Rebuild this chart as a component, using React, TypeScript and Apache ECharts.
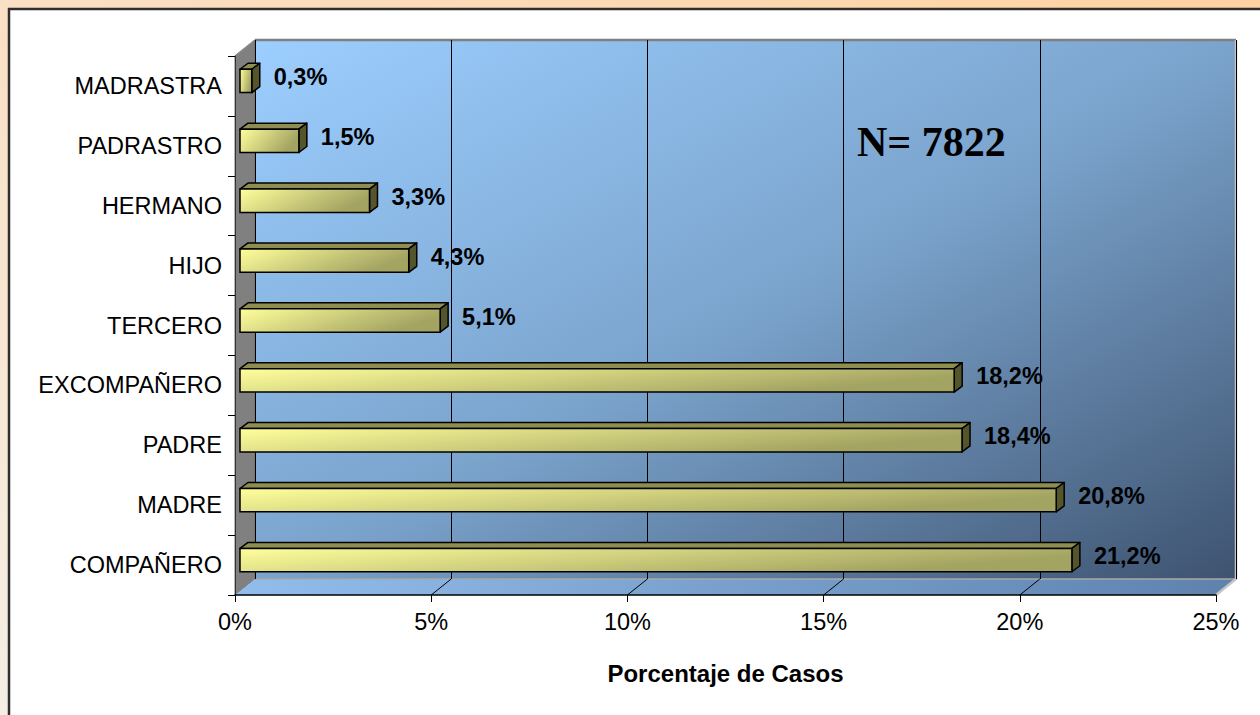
import React, { useEffect, useRef } from "react";
import * as echarts from "echarts";

const categories = ["MADRASTRA", "PADRASTRO", "HERMANO", "HIJO", "TERCERO", "EXCOMPAÑERO", "PADRE", "MADRE", "COMPAÑERO"];
const values = [0.3, 1.5, 3.3, 4.3, 5.1, 18.2, 18.4, 20.8, 21.2];
const axisMin = 0;
const axisMax = 25;
const axisStep = 5;
const floorGridValues = [5, 10, 15, 20];
const annotation = "N= 7822";
const axisTitle = "Porcentaje de Casos";

// layout constants (front plane and 3D depth)
const FL = 235, FT = 56, FR = 1216, FB = 595;
const DX = 20, DY = -16;
const W = 1260, H = 715;

const SANS = "'Liberation Sans', Arial, sans-serif";

export default function App() {
  const ref = useRef<HTMLDivElement>(null);
  useEffect(() => {
    if (!ref.current) return;
    const chart = echarts.init(ref.current, null, { renderer: "svg" });
    const LG = echarts.graphic.LinearGradient;

    const BL = FL + DX, BT = FT + DY, BR = FR + DX, BB = FB + DY;

    const option: any = {
      animation: false,
      backgroundColor: new LG(0, 1, 1, 0, [
        { offset: 0, color: "#F5EEE5" },
        { offset: 1, color: "#FFD2A2" },
      ]),
      graphic: {
        elements: [
          {
            type: "rect", z: -100, silent: true,
            shape: { x: 9, y: 9, width: W, height: H },
            style: { fill: "#FFFFFF", stroke: "#2E2E2E", lineWidth: 2.5 },
          },
          {
            type: "rect", z: -90, silent: true,
            shape: { x: BL, y: BT, width: BR - BL, height: BB - BT },
            style: {
              fill: new LG(0, 0, 1, 1, [
                { offset: 0, color: "#9CCEFF" },
                { offset: 0.5, color: "#7BA4CD" },
                { offset: 1, color: "#3E5370" },
              ]),
            },
          },
          {
            type: "polygon", z: -90, silent: true,
            shape: { points: [[FL, FT], [BL, BT], [BL, BB], [FL, FB]] },
            style: { fill: "#808080", stroke: "#6E6E6E", lineWidth: 1 },
          },
          {
            type: "polygon", z: -90, silent: true,
            shape: { points: [[FL, FB], [BL, BB], [BR, BB], [FR, FB]] },
            style: {
              fill: new LG(0, 0, 1, 0, [
                { offset: 0, color: "#92BDEB" },
                { offset: 1, color: "#5F82AD" },
              ]),
            },
          },
          {
            type: "line", z: -80, silent: true,
            shape: { x1: BL, y1: BB, x2: BR, y2: BB },
            style: { stroke: "#A9A9A9", lineWidth: 1.5 },
          },
          {
            type: "line", z: -80, silent: true,
            shape: { x1: BL, y1: BT, x2: BR, y2: BT },
            style: { stroke: "#808080", lineWidth: 2.5 },
          },
          {
            type: "line", z: -80, silent: true,
            shape: { x1: FL, y1: FT, x2: BL, y2: BT },
            style: { stroke: "#8A8A8A", lineWidth: 1.5 },
          },
          {
            type: "polyline", z: -80, silent: true,
            shape: { points: [[BR, BT], [BR, BB], [FR, FB]] },
            style: { stroke: "#C4C4C4", lineWidth: 2.5, fill: "none" },
          },
          {
            type: "text", z: 50, silent: true,
            x: 857, y: 142,
            style: {
              text: annotation,
              font: "bold 42px 'Liberation Serif', 'Times New Roman', serif",
              fill: "#000000",
              verticalAlign: "middle",
              align: "left",
            },
          },
        ],
      },
      grid: [
        { left: FL, top: FT, width: FR - FL, height: FB - FT, containLabel: false },
        { left: BL, top: BT, width: BR - BL, height: BB - BT, containLabel: false },
      ],
      xAxis: [
        {
          type: "value", gridIndex: 0, min: axisMin, max: axisMax, interval: axisStep,
          axisLine: { show: true, lineStyle: { color: "#000", width: 1.5 } },
          axisTick: { show: true, length: 7, lineStyle: { color: "#000" } },
          splitLine: { show: false },
          axisLabel: {
            formatter: "{value}%", fontSize: 23.5, color: "#000", fontFamily: SANS, margin: 15,
          },
          name: axisTitle,
          nameLocation: "middle",
          nameGap: 66,
          nameTextStyle: { fontSize: 24, fontWeight: "bold", color: "#000", fontFamily: SANS },
        },
        {
          type: "value", gridIndex: 1, min: axisMin, max: axisMax, interval: axisStep,
          axisLine: { show: false }, axisTick: { show: false }, axisLabel: { show: false },
          splitLine: { show: true, lineStyle: { color: "#000", width: 1 } },
        },
      ],
      yAxis: [
        {
          type: "category", gridIndex: 0, data: categories, inverse: true,
          axisLine: { show: true, lineStyle: { color: "#333", width: 1 } },
          axisTick: { show: true, length: 7, lineStyle: { color: "#000" } },
          axisLabel: {
            fontSize: 23.5, color: "#000", fontFamily: SANS, margin: 13,
            padding: [0, 0, 6, 0],
          },
          splitLine: { show: false },
        },
        {
          type: "category", gridIndex: 1, data: categories, inverse: true, show: false,
        },
      ],
      series: [
        {
          type: "custom",
          xAxisIndex: 0, yAxisIndex: 0,
          z: 1,
          silent: true,
          data: floorGridValues.map((v) => [v, 0]),
          encode: { x: 0, y: 1 },
          renderItem: (params: any, api: any) => {
            const x = api.coord([api.value(0), 0])[0];
            const cs = params.coordSys;
            const yb = cs.y + cs.height;
            return {
              type: "line",
              shape: { x1: x, y1: yb, x2: x + DX, y2: yb + DY },
              style: { stroke: "#000", lineWidth: 1 },
            };
          },
        },
        {
          type: "custom",
          xAxisIndex: 0, yAxisIndex: 0,
          z: 5,
          silent: true,
          data: values.map((v, i) => [v, i]),
          encode: { x: 0, y: 1 },
          renderItem: (params: any, api: any) => {
            const v = api.value(0);
            const idx = api.value(1);
            const p0 = api.coord([0, idx]);
            const p1 = api.coord([v, idx]);
            const band = api.size([0, 1])[1];
            const h = band * 0.39;
            const ox = 5, oy = -5;
            const dx = 8, dy = -6;
            const x0 = p0[0] + ox;
            const x1 = p1[0] + ox;
            const yc = p0[1] + oy;
            const top = yc - h / 2;
            const bot = yc + h / 2;
            const label = v.toFixed(1).replace(".", ",") + "%";
            return {
              type: "group",
              children: [
                {
                  type: "polygon",
                  shape: { points: [[x0, top], [x0 + dx, top + dy], [x1 + dx, top + dy], [x1, top]] },
                  style: { fill: "#8E8E52", stroke: "#000", lineWidth: 1.5, lineJoin: "round" },
                },
                {
                  type: "polygon",
                  shape: { points: [[x1, top], [x1 + dx, top + dy], [x1 + dx, bot + dy], [x1, bot]] },
                  style: { fill: "#55552C", stroke: "#000", lineWidth: 1.5, lineJoin: "round" },
                },
                {
                  type: "rect",
                  shape: { x: x0, y: top, width: x1 - x0, height: h },
                  style: {
                    fill: new LG(0, 0, 1, 0.35, [
                      { offset: 0, color: "#FFFF9C" },
                      { offset: 1, color: "#A3A362" },
                    ]),
                    stroke: "#000",
                    lineWidth: 1.5,
                  },
                },
                {
                  type: "text",
                  x: x1 + dx + 14,
                  y: yc - 4,
                  style: {
                    text: label,
                    font: "bold 23.5px " + SANS,
                    fill: "#000",
                    verticalAlign: "middle",
                    align: "left",
                  },
                },
              ],
            };
          },
        },
      ],
    };
    chart.setOption(option);
    return () => chart.dispose();
  }, []);
  return (
    <div
      ref={ref}
      style={{ position: "fixed", left: 0, top: 0, width: W, height: H }}
    />
  );
}
